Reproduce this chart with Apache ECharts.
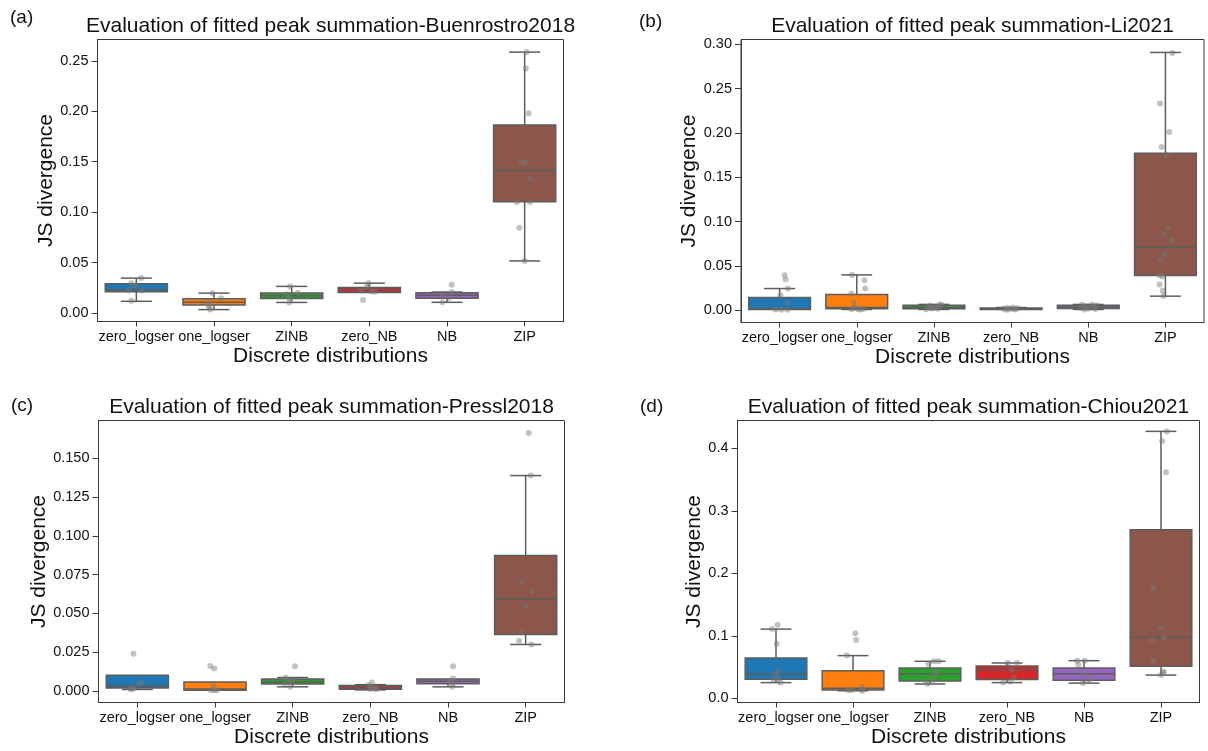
<!DOCTYPE html>
<html>
<head>
<meta charset="utf-8">
<script src="https://cdn.jsdelivr.net/npm/echarts/dist/echarts.min.js"></script>
<style>
  html, body { margin: 0; padding: 0; background: #ffffff; }
  #chart { width: 1208px; height: 751px; }
</style>
</head>
<body>
<div id="chart"></div>
<script>
// ---------------- DATA ----------------
const categories = ['zero_logser', 'one_logser', 'ZINB', 'zero_NB', 'NB', 'ZIP'];

// box statistics per category: [lower whisker, Q1, median, Q3, upper whisker]
const statsA = [
  [0.0117, 0.0212, 0.0232, 0.0292, 0.0347],
  [0.0035, 0.0080, 0.0107, 0.0143, 0.0198],
  [0.0106, 0.0145, 0.0173, 0.0199, 0.0265],
  [0.0205, 0.0205, 0.0232, 0.0254, 0.0297],
  [0.0107, 0.0148, 0.0176, 0.0203, 0.0209],
  [0.0517, 0.1103, 0.1413, 0.1864, 0.2586]
];
const statsB = [
  [0.0005, 0.0008, 0.0015, 0.0143, 0.0244],
  [0.0008, 0.0015, 0.0030, 0.0177, 0.0398],
  [0.0008, 0.0015, 0.0030, 0.0055, 0.0065],
  [0.0003, 0.0008, 0.0014, 0.0024, 0.0030],
  [0.0008, 0.0018, 0.0035, 0.0055, 0.0065],
  [0.0158, 0.0390, 0.0710, 0.1769, 0.2907]
];
const statsC = [
  [0.0009, 0.0019, 0.0032, 0.0101, 0.0101],
  [0.0004, 0.0004, 0.0012, 0.0057, 0.0057],
  [0.0026, 0.0045, 0.0057, 0.0076, 0.0086],
  [0.0006, 0.0010, 0.0020, 0.0035, 0.0040],
  [0.0026, 0.0046, 0.0062, 0.0077, 0.0080],
  [0.0299, 0.0364, 0.0592, 0.0872, 0.1388]
];
const statsD = [
  [0.0254, 0.0308, 0.0390, 0.0649, 0.1110],
  [0.0124, 0.0135, 0.0165, 0.0443, 0.0686],
  [0.0232, 0.0281, 0.0390, 0.0486, 0.0595],
  [0.0254, 0.0303, 0.0460, 0.0519, 0.0568],
  [0.0246, 0.0290, 0.0396, 0.0487, 0.0605],
  [0.0375, 0.0514, 0.0980, 0.2699, 0.4273]
];

// individual observations per category: [value, horizontal jitter (fraction of band)]
const pointsA = [
  [[0.0347, 0.064], [0.0297, -0.064], [0.0270, -0.02], [0.0224, -0.10], [0.0224, 0.064], [0.0122, -0.064]],
  [[0.0198, -0.02], [0.0148, 0.09], [0.0099, -0.06], [0.0085, -0.08], [0.0066, -0.06], [0.0036, -0.05]],
  [[0.0265, -0.02], [0.0200, 0.08], [0.0186, -0.06], [0.0152, -0.03], [0.0106, -0.03]],
  [[0.0297, -0.01], [0.0265, -0.03], [0.0224, -0.10], [0.0214, 0.03], [0.0212, 0.07], [0.0130, -0.08]],
  [[0.0280, 0.06], [0.0209, 0.06], [0.0175, -0.07], [0.0150, 0.02], [0.0107, -0.06]],
  [[0.2586, 0.025], [0.2424, 0.015], [0.1980, 0.05], [0.1500, -0.05], [0.1492, 0.0], [0.1330, 0.07],
   [0.1100, -0.10], [0.1100, 0.07], [0.0846, -0.07], [0.0517, 0.0]]
];
const pointsB = [
  [[0.0395, 0.065], [0.0346, 0.078], [0.0244, 0.108], [0.0169, 0.013], [0.0086, 0.10], [0.0008, -0.052], [0.0006, 0.022], [0.0005, 0.10]],
  [[0.0398, -0.06], [0.0338, 0.10], [0.0244, 0.11], [0.0188, -0.07], [0.0083, -0.04], [0.0026, -0.03],
   [0.0011, -0.07], [0.0011, 0.015], [0.0015, 0.09], [0.0008, 0.05]],
  [[0.0065, 0.08], [0.0058, 0.10], [0.0052, -0.05], [0.0042, 0.03], [0.0032, -0.08], [0.0026, 0.0],
   [0.0020, -0.03], [0.0015, 0.05], [0.0010, -0.10]],
  [[0.0030, 0.02], [0.0026, -0.05], [0.0021, 0.08], [0.0017, -0.10], [0.0014, 0.03], [0.0011, -0.02],
   [0.0008, 0.06], [0.0004, -0.06]],
  [[0.0065, 0.05], [0.0062, -0.08], [0.0054, 0.11], [0.0045, -0.03], [0.0035, 0.07], [0.0027, -0.10],
   [0.0020, 0.0], [0.0012, 0.09], [0.0008, -0.05]],
  [[0.290, 0.09], [0.233, -0.07], [0.201, 0.05], [0.184, -0.05], [0.175, 0.015], [0.093, 0.04],
   [0.086, -0.025], [0.079, 0.08], [0.063, -0.01], [0.056, -0.06], [0.039, -0.075], [0.038, -0.035],
   [0.029, -0.075], [0.022, -0.035], [0.016, -0.025]]
];
const pointsC = [
  [[0.0240, -0.05], [0.0054, 0.06], [0.0047, 0.02], [0.0015, -0.09], [0.0015, -0.05], [0.0010, -0.08]],
  [[0.0161, -0.06], [0.0144, -0.01], [0.0030, -0.02], [0.0004, -0.05], [0.0004, -0.01], [0.0004, 0.025]],
  [[0.0159, 0.03], [0.0086, -0.09], [0.0069, -0.03], [0.0058, 0.0], [0.0040, -0.10], [0.0026, -0.03]],
  [[0.0054, 0.02], [0.0036, -0.02], [0.0021, 0.03], [0.0015, 0.06], [0.0011, 0.08], [0.0012, 0.0]],
  [[0.0159, 0.065], [0.0080, 0.065], [0.0062, 0.015], [0.0047, 0.065], [0.0026, 0.055]],
  [[0.1663, 0.04], [0.1388, 0.065], [0.0700, -0.05], [0.0641, 0.085], [0.0547, 0.0], [0.0380, -0.06],
   [0.0323, -0.085], [0.0299, 0.075]]
];
const pointsD = [
  [[0.1180, 0.02], [0.1110, -0.05], [0.0876, 0.01], [0.0430, 0.03], [0.0390, -0.01], [0.0310, 0.035],
   [0.0254, 0.055], [0.0297, -0.03]],
  [[0.1043, 0.03], [0.0935, 0.04], [0.0686, -0.08], [0.0178, 0.12], [0.0151, 0.11], [0.0135, -0.01],
   [0.0124, 0.12], [0.0130, -0.06]],
  [[0.0595, 0.05], [0.0595, 0.11], [0.0557, -0.02], [0.0432, 0.07], [0.0390, 0.07], [0.0297, 0.04],
   [0.0232, -0.03], [0.0270, -0.06]],
  [[0.0568, 0.01], [0.0568, 0.13], [0.0450, 0.065], [0.0335, 0.09], [0.0254, -0.05], [0.0270, 0.045]],
  [[0.0605, -0.09], [0.0605, 0.01], [0.0540, -0.075], [0.0396, -0.015], [0.0290, 0.06], [0.0246, -0.015], [0.0310, 0.07]],
  [[0.427, 0.075], [0.412, 0.015], [0.362, 0.065], [0.176, -0.10], [0.1125, 0.0], [0.0985, 0.035],
   [0.0926, -0.115], [0.0605, -0.10], [0.0430, 0.035], [0.0375, 0.0], [0.0410, 0.03]]
];

// y-axis tick values
const ticksA = [0, 0.05, 0.10, 0.15, 0.20, 0.25];
const ticksB = [0, 0.05, 0.10, 0.15, 0.20, 0.25, 0.30];
const ticksC = [0, 0.025, 0.050, 0.075, 0.100, 0.125, 0.150];
const ticksD = [0, 0.1, 0.2, 0.3, 0.4];

const titles = [
  'Evaluation of fitted peak summation-Buenrostro2018',
  'Evaluation of fitted peak summation-Li2021',
  'Evaluation of fitted peak summation-Pressl2018',
  'Evaluation of fitted peak summation-Chiou2021'
];
const panelLabels = ['(a)', '(b)', '(c)', '(d)'];
const xAxisTitle = 'Discrete distributions';
const yAxisTitle = 'JS divergence';

// ---------------- STYLE / LAYOUT ----------------
const FONT = 'Arial, "Liberation Sans", Helvetica, sans-serif';
const COLORS = ['#1f77b4', '#ff7f0e', '#2ca02c', '#d62728', '#9467bd', '#8c564b'];
const LINE = '#5d5d5d';
const TEXT = '#111111';

const panels = [
  { stats: statsA, points: pointsA, ticks: ticksA, dec: 2, min: -0.0083, max: 0.2711,
    grid: { left: 97.5, top: 39.5, width: 466, height: 282 }, nameGap: 41,
    titlePos: [330.5, 26], labelPos: [10, 18] },
  { stats: statsB, points: pointsB, ticks: ticksB, dec: 2, min: -0.0139, max: 0.3053,
    grid: { left: 741, top: 39.5, width: 463, height: 283 }, nameGap: 40,
    titlePos: [972.5, 26], labelPos: [639, 22] },
  { stats: statsC, points: pointsC, ticks: ticksC, dec: 3, min: -0.0075, max: 0.1743,
    grid: { left: 98.5, top: 420.5, width: 466, height: 282 }, nameGap: 47,
    titlePos: [331.5, 407], labelPos: [11, 406] },
  { stats: statsD, points: pointsD, ticks: ticksD, dec: 1, min: -0.0064, max: 0.4447,
    grid: { left: 737.5, top: 420.5, width: 462, height: 282 }, nameGap: 32,
    titlePos: [968.5, 407], labelPos: [640, 407] }
];

function renderBox(params, api) {
  const k = api.value(0);
  const lo = api.coord([k, api.value(1)]);
  const q1 = api.coord([k, api.value(2)]);
  const md = api.coord([k, api.value(3)]);
  const q3 = api.coord([k, api.value(4)]);
  const hi = api.coord([k, api.value(5)]);
  const band = api.size([1, 0])[0];
  const w = band * 0.8;
  const cw = w / 2;
  const x = md[0];
  const ls = { stroke: LINE, lineWidth: 1.5 };
  const children = [];
  if (hi[1] < q3[1] - 0.5) {
    children.push({ type: 'line', shape: { x1: x, y1: q3[1], x2: x, y2: hi[1] }, style: ls });
    children.push({ type: 'line', shape: { x1: x - cw / 2, y1: hi[1], x2: x + cw / 2, y2: hi[1] }, style: ls });
  }
  if (lo[1] > q1[1] + 0.5) {
    children.push({ type: 'line', shape: { x1: x, y1: q1[1], x2: x, y2: lo[1] }, style: ls });
    children.push({ type: 'line', shape: { x1: x - cw / 2, y1: lo[1], x2: x + cw / 2, y2: lo[1] }, style: ls });
  }
  children.push({
    type: 'rect',
    shape: { x: x - w / 2, y: q3[1], width: w, height: Math.max(q1[1] - q3[1], 0.5) },
    style: { fill: COLORS[k], stroke: LINE, lineWidth: 1.5 }
  });
  children.push({ type: 'line', shape: { x1: x - w / 2, y1: md[1], x2: x + w / 2, y2: md[1] }, style: ls });
  return { type: 'group', children: children };
}

function renderPoint(params, api) {
  const k = api.value(0);
  const p = api.coord([k, api.value(2)]);
  const band = api.size([1, 0])[0];
  return {
    type: 'circle',
    shape: { cx: p[0] + api.value(1) * band, cy: p[1], r: 3 },
    style: { fill: 'rgba(120,120,120,0.45)' }
  };
}

const grids = [], xAxes = [], yAxes = [], series = [], graphics = [];

panels.forEach(function (p, i) {
  grids.push(Object.assign({ show: true, borderColor: '#3a3a3a', borderWidth: 1, backgroundColor: 'transparent' }, p.grid));
  xAxes.push({
    type: 'category', gridIndex: i, data: categories, boundaryGap: true,
    axisLine: { show: true, onZero: false, lineStyle: { color: '#3a3a3a', width: 1 } },
    axisTick: { show: true, alignWithLabel: true, length: 5, lineStyle: { color: '#3a3a3a' } },
    axisLabel: { interval: 0, fontSize: 14.5, color: TEXT, margin: 8, fontFamily: FONT },
    splitLine: { show: false },
    name: xAxisTitle, nameLocation: 'middle', nameGap: 24,
    nameTextStyle: { fontSize: 21, color: TEXT, fontFamily: FONT }
  });
  yAxes.push({
    type: 'value', gridIndex: i, min: p.min, max: p.max,
    axisLine: { show: true, onZero: false, lineStyle: { color: '#3a3a3a', width: 1 } },
    axisTick: { show: true, length: 6, customValues: p.ticks, lineStyle: { color: '#3a3a3a' } },
    axisLabel: {
      customValues: p.ticks, fontSize: 14.5, color: TEXT, margin: 9, fontFamily: FONT,
      formatter: (function (d) { return function (v) { return Number(v).toFixed(d); }; })(p.dec)
    },
    splitLine: { show: false },
    name: yAxisTitle, nameLocation: 'middle', nameRotate: 90, nameGap: p.nameGap,
    nameTextStyle: { fontSize: 21, color: TEXT, fontFamily: FONT }
  });
  series.push({
    type: 'custom', xAxisIndex: i, yAxisIndex: i, renderItem: renderBox, silent: true,
    encode: { x: 0, y: [1, 2, 3, 4, 5] },
    data: p.stats.map(function (s, k) { return [k].concat(s); }),
    z: 2
  });
  const pts = [];
  p.points.forEach(function (arr, k) { arr.forEach(function (o) { pts.push([k, o[1], o[0]]); }); });
  series.push({
    type: 'custom', xAxisIndex: i, yAxisIndex: i, renderItem: renderPoint, silent: true,
    encode: { x: 0, y: 2 }, data: pts, z: 3
  });
  graphics.push({
    type: 'text', x: p.titlePos[0], y: p.titlePos[1],
    style: { text: titles[i], font: '21px ' + FONT, fill: TEXT, textAlign: 'center', textVerticalAlign: 'middle' }
  });
  graphics.push({
    type: 'text', x: p.labelPos[0], y: p.labelPos[1],
    style: { text: panelLabels[i], font: '19px ' + FONT, fill: TEXT, textAlign: 'left', textVerticalAlign: 'middle' }
  });
});

const chart = echarts.init(document.getElementById('chart'), null, { renderer: 'canvas' });
chart.setOption({
  backgroundColor: '#ffffff',
  animation: false,
  grid: grids,
  xAxis: xAxes,
  yAxis: yAxes,
  series: series,
  graphic: graphics
});
</script>
</body>
</html>
